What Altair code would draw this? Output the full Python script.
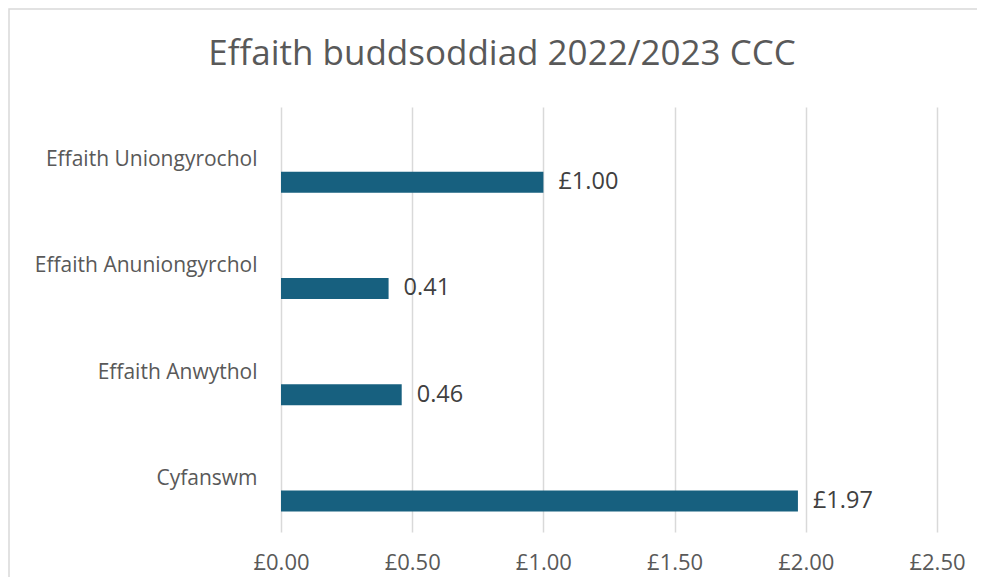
import altair as alt
import pandas as pd

categories = ["Effaith Uniongyrochol", "Effaith Anuniongyrchol", "Effaith Anwythol", "Cyfanswm"]
values = [1.00, 0.41, 0.46, 1.97]
value_labels = ["£1.00", "0.41", "0.46", "£1.97"]
x_ticks = [0, 0.5, 1.0, 1.5, 2.0, 2.5]
title_text = "Effaith buddsoddiad 2022/2023 CCC"

df = pd.DataFrame({"cat": categories, "val": values, "lab": value_labels})

FONT = "Open Sans"
GREY = "#595959"
BAR = "#17607f"

y_enc = alt.Y(
    "cat:N", sort=categories,
    scale=alt.Scale(paddingInner=0, paddingOuter=0),
    axis=alt.Axis(title=None, domain=False, ticks=False, grid=False,
                  labelPadding=24, labelFontSize=21, labelColor=GREY,
                  labelFont=FONT, labelLimit=400),
)
x_enc = alt.X(
    "val:Q",
    scale=alt.Scale(domain=[0, 2.5], nice=False),
    axis=alt.Axis(values=x_ticks, title=None, domain=False, ticks=False,
                  labelPadding=20, labelFontSize=22, labelColor=GREY, labelFont=FONT,
                  labelFlush=False, labelOverlap=False,
                  labelExpr="'£' + format(datum.value, '.2f')",
                  grid=True, gridColor="#d9d9d9", gridWidth=1.5),
)

frame = alt.Chart(pd.DataFrame({"a": [0]})).mark_rect(
    fill=None, stroke="#d9d9d9", strokeWidth=1.5, clip=False
).encode(x=alt.value(-272), x2=alt.value(760), y=alt.value(-98), y2=alt.value(520))

title = alt.Chart(pd.DataFrame({"t": [title_text]})).mark_text(
    fontSize=35, font=FONT, color=GREY, align="center", baseline="alphabetic", clip=False
).encode(x=alt.value(221), y=alt.value(-42), text="t:N")

bars = alt.Chart(df).mark_bar(color=BAR, size=21, yOffset=22).encode(x=x_enc, y=y_enc)

texts = alt.Chart(df).mark_text(
    align="left", baseline="middle", dx=15, yOffset=22,
    fontSize=23.5, font=FONT, color="#404040"
).encode(x="val:Q", y=alt.Y("cat:N", sort=categories), text="lab:N")

chart = alt.layer(frame, title, bars, texts).properties(
    width=656, height=425,
    autosize=alt.AutoSizeParams(type="none"),
    padding={"left": 273, "top": 99, "right": 40, "bottom": 45},
    background="white",
).configure_view(stroke=None)

chart.save("out.html", embed_options={"renderer": "svg", "actions": False})
